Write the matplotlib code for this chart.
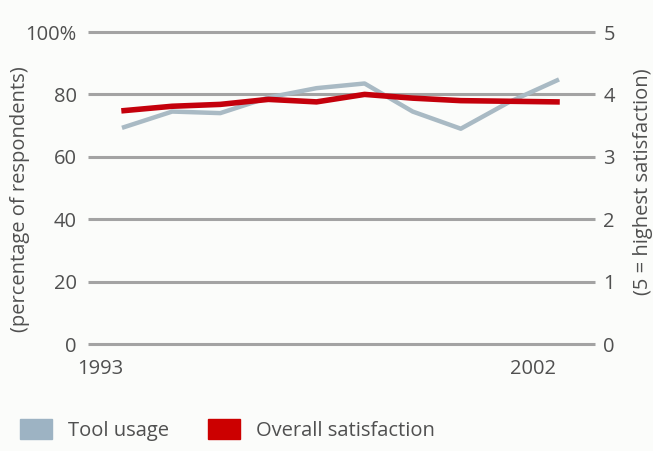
import matplotlib
matplotlib.use('Agg')
import matplotlib.pyplot as plt
from matplotlib.patches import Patch

# survey years, points sit mid-year
years = [1993, 1994, 1995, 1996, 1997, 1998, 1999, 2000, 2001, 2002]
tool_usage = [69.5, 74.5, 74.0, 79.0, 82.0, 83.5, 74.5, 69.0, 77.5, 84.5]  # percent
satisfaction = [3.74, 3.81, 3.84, 3.92, 3.88, 4.0, 3.94, 3.9, 3.89, 3.88]  # 1-5 scale

left_ticks = [0, 20, 40, 60, 80, 100]
left_labels = ['0', '20', '40', '60', '80', '100%']
right_ticks = [0, 1, 2, 3, 4, 5]
year_ticks = [1993, 2002]

plt.rcParams['font.family'] = ['Open Sans', 'DejaVu Sans']
text_col = '#505050'
bg = '#fbfcfa'
fs = 14.5

fig = plt.figure(figsize=(6.53, 4.51), dpi=100, facecolor=bg)
W, H = 653, 451
ax = fig.add_axes([88 / W, 1 - 344 / H, (595 - 88) / W, (344 - 32) / H])
ax.set_facecolor(bg)
ax2 = ax.twinx()

x0, x1 = 1992.75, 2003.29
ax.set_xlim(x0, x1)
ax.set_ylim(0, 100)
ax2.set_ylim(0, 5)

ax.hlines(left_ticks, x0, x1, color='#a3a3a3', lw=2.2, clip_on=False, zorder=1)

xs = [y + 0.5 for y in years]
ax.plot(xs, tool_usage, color='#a9bac4', lw=3.2, zorder=3)
ax2.plot(xs, satisfaction, color='#c4000b', lw=4.0, zorder=4)

for a in (ax, ax2):
    for s in a.spines.values():
        s.set_visible(False)
    a.tick_params(length=0, colors=text_col, labelsize=fs)

ax.set_yticks(left_ticks, left_labels)
ax.tick_params(axis='y', pad=8)
ax2.set_yticks(right_ticks, [str(t) for t in right_ticks])
ax2.tick_params(axis='y', pad=6)
ax.set_xticks(year_ticks, [str(y) for y in year_ticks])
ax.tick_params(axis='x', pad=11)

fig.text(20 / W, 1 - 199 / H, '(percentage of respondents)', rotation=90,
         ha='center', va='center', fontsize=fs, color=text_col)
fig.text(643 / W, 1 - 182 / H, '(5 = highest satisfaction)', rotation=90,
         ha='center', va='center', fontsize=fs, color=text_col)

handles = [Patch(color='#9db3c3', label='Tool usage'),
           Patch(color='#cc0000', label='Overall satisfaction')]
leg = fig.legend(handles=handles, loc='lower left', bbox_to_anchor=(20 / W, 1 - 441 / H),
                 ncol=2, frameon=False, fontsize=fs, borderpad=0, borderaxespad=0,
                 handlelength=1.59, handleheight=1.14, handletextpad=0.8,
                 columnspacing=1.94)
for t in leg.get_texts():
    t.set_color(text_col)

fig.savefig('out.png', dpi=100, facecolor=bg)
